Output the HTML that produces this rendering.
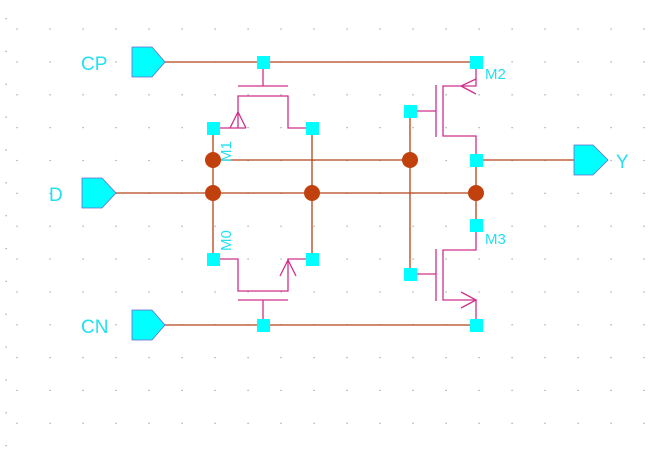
<!DOCTYPE html>
<html><head><meta charset="utf-8"><style>
html,body{margin:0;padding:0;background:#fff;width:661px;height:454px;overflow:hidden}
svg{display:block}
text{font-family:"Liberation Sans",sans-serif;fill:#22e0f0}
</style></head><body>
<svg width="661" height="454" viewBox="0 0 661 454" xmlns="http://www.w3.org/2000/svg">
<g id="grid" fill="#999"></g>
<g stroke="#b3441a" stroke-width="1.3" fill="none">
<line x1="165" y1="62" x2="476" y2="62"/>
<line x1="165" y1="325" x2="476" y2="325"/>
<line x1="116" y1="193" x2="476" y2="193"/>
<line x1="213" y1="160" x2="410" y2="160"/>
<line x1="476" y1="160" x2="574" y2="160"/>
<line x1="213" y1="128" x2="213" y2="259"/>
<line x1="312" y1="128" x2="312" y2="259"/>
<line x1="410" y1="111" x2="410" y2="274"/>
<line x1="476" y1="160" x2="476" y2="225"/>
</g>
<g stroke="#d0308a" stroke-width="1.3" fill="none">
<!-- M1 -->
<line x1="263" y1="62" x2="263" y2="86"/>
<line x1="238" y1="86" x2="288" y2="86"/>
<polyline points="213,128 246,128"/>
<polyline points="238,128 238,96 288,96 288,128 312,128"/>
<polyline points="230,128 238,112 246,128"/>
<!-- M0 -->
<line x1="263" y1="300" x2="263" y2="325"/>
<line x1="238" y1="300" x2="288" y2="300"/>
<polyline points="213,259 238,259 238,291 288,291 288,259 312,259"/>
<polyline points="280,276 288,260 296,276"/>
<!-- M2 -->
<line x1="410" y1="111" x2="436" y2="111"/>
<line x1="436" y1="85" x2="436" y2="137"/>
<polyline points="476,62 476,86 443,86 443,136 476,136 476,160"/>
<polyline points="476,79 461,86 476,94"/>
<!-- M3 -->
<line x1="410" y1="274" x2="436" y2="274"/>
<line x1="436" y1="249" x2="436" y2="301"/>
<polyline points="476,225 476,250 443,250 443,300 476,300 476,325"/>
<polyline points="461,292 476,300 461,308"/>
</g>
<g fill="#00ffff">
<polygon points="132,47 152,47 165,62 152,77 132,77" stroke="#6a6ad0" stroke-width="0.8"/>
<polygon points="82,178 102,178 116,193 102,208 82,208" stroke="#6a6ad0" stroke-width="0.8"/>
<polygon points="132,310 152,310 165,325 152,340 132,340" stroke="#6a6ad0" stroke-width="0.8"/>
<polygon points="574,145 593,145 608,160 593,175 574,175" stroke="#6a6ad0" stroke-width="0.8"/>
<rect x="257" y="56" width="13" height="13"/>
<rect x="470" y="56" width="13" height="13"/>
<rect x="207" y="122" width="13" height="13"/>
<rect x="306" y="122" width="13" height="13"/>
<rect x="404" y="105" width="13" height="13"/>
<rect x="470" y="154" width="13" height="13"/>
<rect x="470" y="219" width="13" height="13"/>
<rect x="207" y="253" width="13" height="13"/>
<rect x="306" y="253" width="13" height="13"/>
<rect x="404" y="268" width="13" height="13"/>
<rect x="257" y="319" width="13" height="13"/>
<rect x="470" y="319" width="13" height="13"/>
</g>
<g fill="#c0400e">
<circle cx="213" cy="160" r="8"/>
<circle cx="410" cy="160" r="8"/>
<circle cx="213" cy="193" r="8"/>
<circle cx="312" cy="193" r="8"/>
<circle cx="476" cy="193" r="8"/>
</g>
<text x="81" y="70" font-size="19">CP</text>
<text x="49" y="201" font-size="19">D</text>
<text x="81" y="333" font-size="19">CN</text>
<text x="616" y="168" font-size="19">Y</text>
<text x="485" y="79" font-size="15">M2</text>
<text x="485" y="244" font-size="15">M3</text>
<text transform="translate(231,162) rotate(-90)" font-size="15">M1</text>
<text transform="translate(231,251) rotate(-90)" font-size="15">M0</text>
</svg>
<script>
var g=document.getElementById('grid'),s='';
for(var i=0;i<20;i++)for(var j=0;j<14;j++){var x=17+33*i,y=29+32.85*j;
if(x<661&&y<454)s+='<rect x="'+(x-0.5)+'" y="'+(y-0.5)+'" width="1.2" height="1.2"/>';}
for(var j=0;j<14;j++){var y=18+32.85*j;s+='<rect x="5.5" y="'+y+'" width="1.2" height="1.2"/>';}
g.innerHTML=s;
</script>
</body></html>
